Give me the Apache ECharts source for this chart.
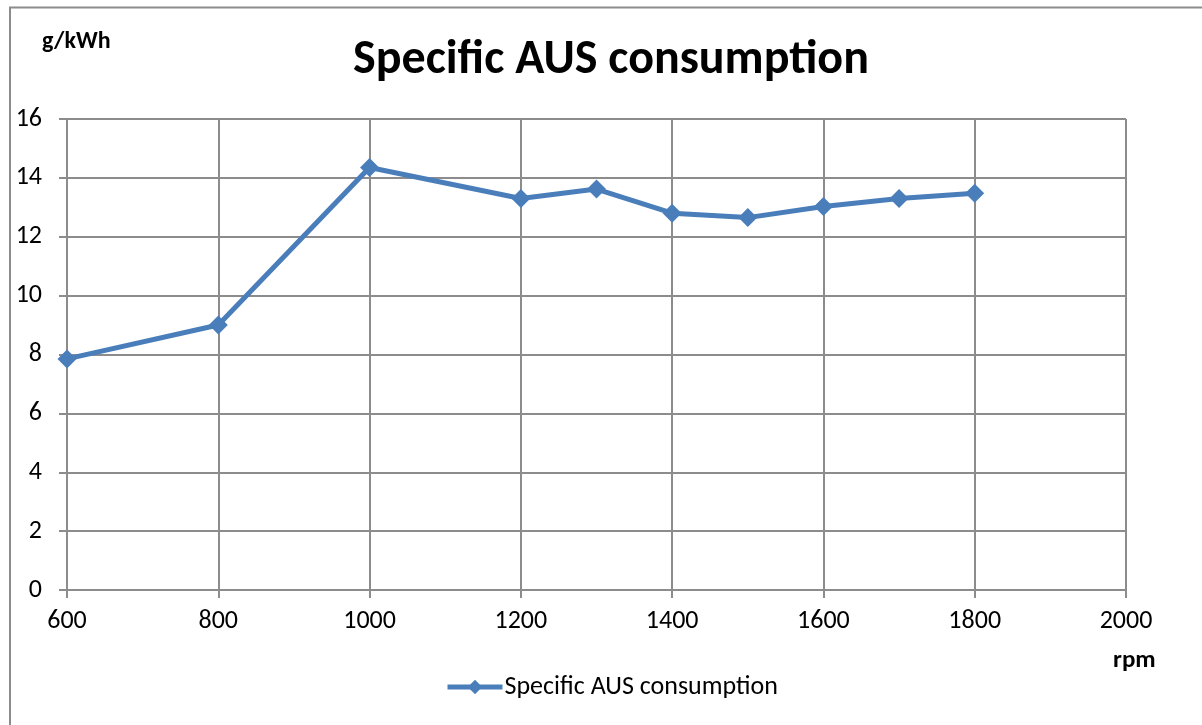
<!DOCTYPE html>
<html>
<head>
<meta charset="utf-8">
<script src="https://cdn.jsdelivr.net/npm/echarts@6/dist/echarts.min.js"></script>
<style>html,body{margin:0;padding:0;background:#fff;}#c{width:1202px;height:725px;}</style>
</head>
<body>
<div id="c"></div>
<script>
const title = 'Specific AUS consumption';
const seriesName = 'Specific AUS consumption';
const yUnit = 'g/kWh';
const xUnit = 'rpm';
const rpm = [600, 800, 1000, 1200, 1300, 1400, 1500, 1600, 1700, 1800];
const consumption = [7.85, 9.0, 14.35, 13.3, 13.62, 12.8, 12.65, 13.03, 13.3, 13.48];

const FONT = 'Carlito, Lato, "Open Sans", sans-serif';
const chart = echarts.init(document.getElementById('c'), null, {renderer: 'canvas'});
chart.setOption({
  animation: false,
  backgroundColor: '#fff',
  title: {
    text: title, left: 606, top: 32, textAlign: 'center',
    textStyle: {fontFamily: FONT, fontSize: 48, fontWeight: 'bold', color: '#000'}
  },
  graphic: [
    {type: 'rect', shape: {x: 10, y: 7.5, width: 1300, height: 800}, style: {fill: null, stroke: '#8c8c8c', lineWidth: 2}},
    {type: 'text', left: 42, top: 30, style: {text: yUnit, font: 'bold 24px ' + FONT, fill: '#000'}},
    {type: 'text', left: 1113, top: 648, style: {text: xUnit, font: 'bold 25px ' + FONT, fill: '#000'}}
  ],
  legend: {
    top: 669, left: 440,
    itemWidth: 55, itemHeight: 18, itemGap: 4,
    lineStyle: {width: 5},
    data: [{name: seriesName}],
    textStyle: {fontFamily: FONT, fontSize: 26, color: '#000', padding: [0,0,0,-3]}
  },
  grid: {left: 67, right: 76, top: 119, bottom: 135, containLabel: false},
  xAxis: {
    type: 'value', min: 600, max: 2000, interval: 200,
    axisLine: {show: true, lineStyle: {color: '#8c8c8c', width: 2}},
    axisTick: {show: true, length: 8, lineStyle: {color: '#8c8c8c', width: 2}},
    axisLabel: {color: '#000', fontFamily: FONT, fontSize: 26, margin: 18, formatter: v => String(v)},
    splitLine: {show: true, lineStyle: {color: '#8c8c8c', width: 2}}
  },
  yAxis: {
    type: 'value', min: 0, max: 16, interval: 2,
    axisLine: {show: true, lineStyle: {color: '#8c8c8c', width: 2}},
    axisTick: {show: true, length: 8, lineStyle: {color: '#8c8c8c', width: 2}},
    axisLabel: {color: '#000', fontFamily: FONT, fontSize: 26, margin: 25},
    splitLine: {show: true, lineStyle: {color: '#8c8c8c', width: 2}}
  },
  series: [{
    name: seriesName, type: 'line',
    data: rpm.map((x, i) => [x, consumption[i]]),
    symbol: 'diamond', symbolSize: 19,
    lineStyle: {color: '#4a7ebb', width: 5},
    itemStyle: {color: '#4a7ebb'}
  }]
});
</script>
</body>
</html>
